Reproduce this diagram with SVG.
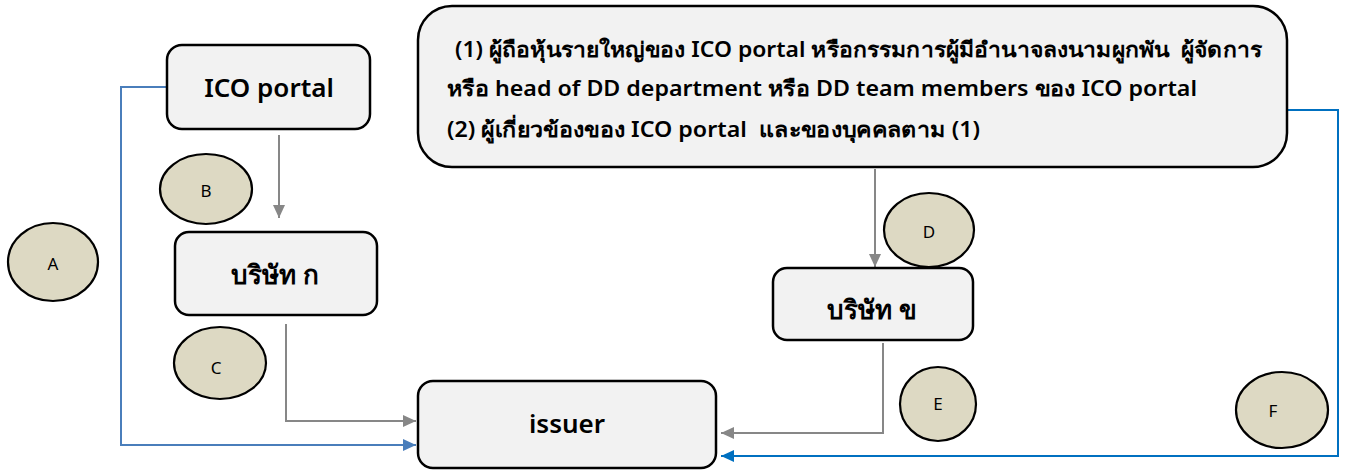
<svg xmlns="http://www.w3.org/2000/svg" width="1351" height="471" viewBox="0 0 1351 471">
<style>
.box{fill:#F2F2F2;stroke:#000;stroke-width:2.5}
.ell{fill:#DDD9C3;stroke:#000;stroke-width:2.2}
.lbl{font-family:"Noto Sans","DejaVu Sans",sans-serif;fill:#000}
.big{font-size:26px;font-weight:600;text-anchor:middle}
.small{font-size:17px;text-anchor:middle}
.para{font-size:21px;font-weight:600;white-space:pre}
.gray{fill:none;stroke:#878787;stroke-width:2}
.blue{fill:none;stroke:#4A7EBB;stroke-width:2}
.blue2{fill:none;stroke:#0070C0;stroke-width:2}
</style>
<defs>
<marker id="ag" markerWidth="14" markerHeight="14" refX="13" refY="7" orient="auto" markerUnits="userSpaceOnUse"><path d="M0,1 L13,7 L0,13 Z" fill="#878787"/></marker>
<marker id="ab" markerWidth="14" markerHeight="14" refX="13" refY="7" orient="auto" markerUnits="userSpaceOnUse"><path d="M0,1 L13,7 L0,13 Z" fill="#4A7EBB"/></marker>
<marker id="ab2" markerWidth="14" markerHeight="14" refX="13" refY="7" orient="auto" markerUnits="userSpaceOnUse"><path d="M0,1 L13,7 L0,13 Z" fill="#0070C0"/></marker>
</defs>
<g id="connectors">
<polyline class="blue" points="167,87 121,87 121,445 416,445" marker-end="url(#ab)"/>
<polyline class="gray" points="279,135 279,218" marker-end="url(#ag)"/>
<polyline class="gray" points="286,324 286,421 416,421" marker-end="url(#ag)"/>
<polyline class="gray" points="875,169 875,267" marker-end="url(#ag)"/>
<polyline class="gray" points="883,343 883,433 721,433" marker-end="url(#ag)"/>
<polyline class="blue2" points="1287,110 1338,110 1338,456 721,456" marker-end="url(#ab2)"/>
</g>
<g id="node-ico">
<rect class="box" x="167" y="45" width="203" height="84" rx="15"/>
<text class="lbl big" x="269" y="97">ICO portal</text>
</g>
<g id="node-a">
<rect class="box" x="175" y="232" width="202" height="83" rx="14"/>
<text class="lbl big" x="275" y="284">บริษัท ก</text>
</g>
<g id="node-info">
<rect class="box" x="418" y="6" width="869" height="161" rx="34"/>
<text class="lbl para" x="455" y="57" textLength="807" lengthAdjust="spacingAndGlyphs">(1) ผู้ถือหุ้นรายใหญ่ของ ICO portal หรือกรรมการผู้มีอำนาจลงนามผูกพัน  ผู้จัดการ</text>
<text class="lbl para" x="447" y="96" textLength="750" lengthAdjust="spacingAndGlyphs">หรือ head of DD department หรือ DD team members ของ ICO portal</text>
<text class="lbl para" x="447" y="137" textLength="533" lengthAdjust="spacingAndGlyphs">(2) ผู้เกี่ยวข้องของ ICO portal  และของบุคคลตาม (1)</text>
</g>
<g id="node-b">
<rect class="box" x="773" y="268" width="200" height="72" rx="14"/>
<text class="lbl big" x="872" y="319">บริษัท ข</text>
</g>
<g id="node-issuer">
<rect class="box" x="418" y="381" width="298" height="87" rx="15"/>
<text class="lbl big" x="567" y="433">issuer</text>
</g>
<g id="label-A"><ellipse class="ell" cx="53" cy="262" rx="45" ry="39"/><text class="lbl small" x="53" y="270">A</text></g>
<g id="label-B"><ellipse class="ell" cx="206" cy="189" rx="46" ry="35"/><text class="lbl small" x="206" y="197">B</text></g>
<g id="label-C"><ellipse class="ell" cx="220" cy="363" rx="46" ry="36"/><text class="lbl small" x="216" y="374">C</text></g>
<g id="label-D"><ellipse class="ell" cx="929" cy="230" rx="45" ry="37"/><text class="lbl small" x="929" y="238">D</text></g>
<g id="label-E"><ellipse class="ell" cx="938" cy="404" rx="38" ry="37"/><text class="lbl small" x="938" y="410">E</text></g>
<g id="label-F"><ellipse class="ell" cx="1282" cy="410" rx="46" ry="38"/><text class="lbl small" x="1273" y="417">F</text></g>
</svg>
